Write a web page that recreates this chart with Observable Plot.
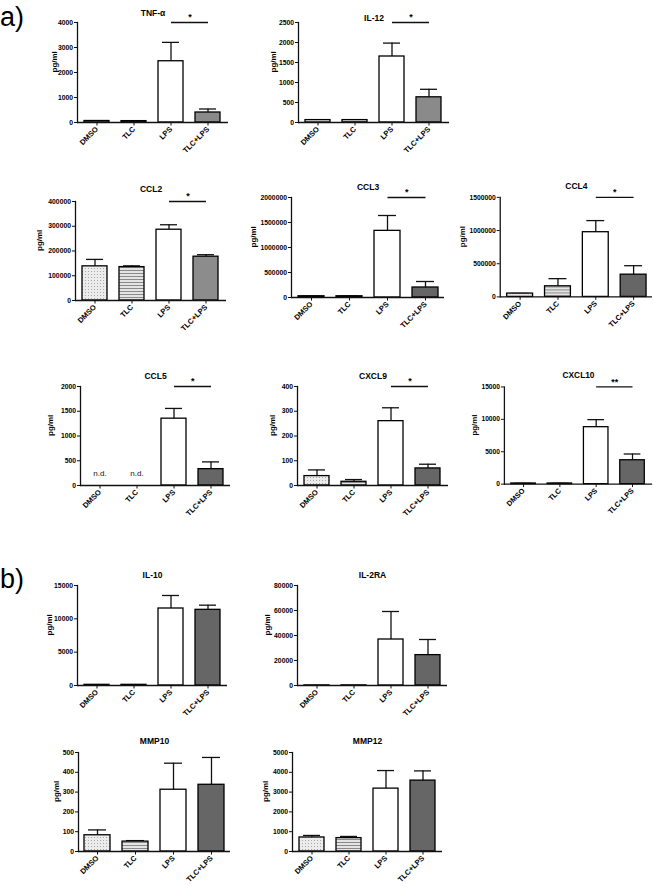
<!DOCTYPE html>
<html><head><meta charset="utf-8">
<script src="https://cdn.jsdelivr.net/npm/d3@7"></script>
<script src="https://cdn.jsdelivr.net/npm/@observablehq/plot@0.6"></script>
<style>
body{margin:0;background:#fff;}
#root{position:relative;width:660px;height:886px;overflow:hidden;font-family:"Liberation Sans",Arial,sans-serif;background:#fff;}
.panel{position:absolute;}
.tag{position:absolute;font-size:27px;line-height:1;color:#000;}
</style></head><body>
<div id="root">
<svg width="0" height="0" style="position:absolute;left:0;top:0"><defs>
<pattern id="dots" width="3" height="3" patternUnits="userSpaceOnUse"><rect width="3" height="3" fill="#ececec"/><rect x="1" y="1" width="1" height="1" fill="#a8a8a8"/></pattern>
<pattern id="stripes" width="4" height="3" patternUnits="userSpaceOnUse"><rect width="4" height="3" fill="#e4e4e4"/><rect y="0" width="4" height="1" fill="#8a8a8a"/></pattern>
</defs></svg>
<div class="tag" style="left:0px;top:4px">a)</div>
<div class="tag" style="left:0px;top:566px">b)</div>
</div>
<script>
// ---- data ----
const groups = ["DMSO", "TLC", "LPS", "TLC+LPS"];
const analytes = ["TNF-α", "IL-12", "CCL2", "CCL3", "CCL4", "CCL5", "CXCL9", "CXCL10", "IL-10", "IL-2RA", "MMP10", "MMP12"];

const tnfMean = [60, 55, 2450, 400];          const tnfErr = [10, 10, 755, 140];
const il12Mean = [60, 60, 1650, 630];         const il12Err = [5, 5, 335, 200];
const ccl2Mean = [138000, 135000, 286000, 177000]; const ccl2Err = [28000, 5000, 20000, 8000];
const ccl3Mean = [25000, 25000, 1333000, 200000];  const ccl3Err = [5000, 5000, 307000, 120000];
const ccl4Mean = [50000, 160000, 975000, 335000];  const ccl4Err = [3000, 115000, 175000, 135000];
const ccl5Mean = [null, null, 1350, 330];     const ccl5Err = [0, 0, 207, 147];
const cxcl9Mean = [38, 15, 260, 69];          const cxcl9Err = [25, 9, 54, 17];
const cxcl10Mean = [100, 100, 8790, 3690];    const cxcl10Err = [20, 20, 1160, 960];
const il10Mean = [100, 100, 11550, 11350];    const il10Err = [20, 20, 1950, 700];
const il2raMean = [100, 100, 36800, 24300];   const il2raErr = [0, 0, 22400, 12500];
const mmp10Mean = [82, 50, 312, 337];         const mmp10Err = [27, 5, 134, 138];
const mmp12Mean = [709, 676, 3176, 3581];     const mmp12Err = [102, 84, 912, 490];

const tnfTicks = [0, 1000, 2000, 3000, 4000];
const il12Ticks = [0, 500, 1000, 1500, 2000, 2500];
const ccl2Ticks = [0, 100000, 200000, 300000, 400000];
const ccl3Ticks = [0, 500000, 1000000, 1500000, 2000000];
const ccl4Ticks = [0, 500000, 1000000, 1500000];
const ccl5Ticks = [0, 500, 1000, 1500, 2000];
const cxcl9Ticks = [0, 100, 200, 300, 400];
const cxcl10Ticks = [0, 5000, 10000, 15000];
const il10Ticks = [0, 5000, 10000, 15000];
const il2raTicks = [0, 20000, 40000, 60000, 80000];
const mmp10Ticks = [0, 100, 200, 300, 400, 500];
const mmp12Ticks = [0, 1000, 2000, 3000, 4000, 5000];

const significance = ["*", "*", "*", "*", "*", "*", "*", "**", "", "", "", ""];
const nd = "n.d.";

// ---- layout (pixel geometry of each panel) ----
const layout = [
  {mean: tnfMean, err: tnfErr, ticks: tnfTicks, x0: 77, x1: 228, yT: 22, yB: 122, dt: 13, ly: -23, gray: "#8a8a8a"},
  {mean: il12Mean, err: il12Err, ticks: il12Ticks, x0: 298, x1: 449, yT: 22, yB: 122, dt: 8, ly: -25, gray: "#8a8a8a"},
  {mean: ccl2Mean, err: ccl2Err, ticks: ccl2Ticks, x0: 75, x1: 226, yT: 201, yB: 300, dt: 16, ly: -36, gray: "#8c8c8c"},
  {mean: ccl3Mean, err: ccl3Err, ticks: ccl3Ticks, x0: 291, x1: 444, yT: 197, yB: 297, dt: 14, ly: -38, gray: "#666"},
  {mean: ccl4Mean, err: ccl4Err, ticks: ccl4Ticks, x0: 500, x1: 653, yT: 197, yB: 297, dt: 14, ly: -38, gray: "#666"},
  {mean: ccl5Mean, err: ccl5Err, ticks: ccl5Ticks, x0: 80, x1: 230, yT: 386, yB: 485, dt: 14, ly: -30, gray: "#666"},
  {mean: cxcl9Mean, err: cxcl9Err, ticks: cxcl9Ticks, x0: 297, x1: 448, yT: 386, yB: 485, dt: 14, ly: -25, gray: "#666"},
  {mean: cxcl10Mean, err: cxcl10Err, ticks: cxcl10Ticks, x0: 505, x1: 656, yT: 387, yB: 486, dt: 15, ly: -30, gray: "#666"},
  {mean: il10Mean, err: il10Err, ticks: il10Ticks, x0: 77, x1: 227, yT: 585, yB: 685, dt: 14, ly: -28, gray: "#666"},
  {mean: il2raMean, err: il2raErr, ticks: il2raTicks, x0: 297, x1: 447, yT: 585, yB: 685, dt: 14, ly: -30, gray: "#666"},
  {mean: mmp10Mean, err: mmp10Err, ticks: mmp10Ticks, x0: 78, x1: 230, yT: 752, yB: 851, dt: 15, ly: -22, gray: "#666"},
  {mean: mmp12Mean, err: mmp12Err, ticks: mmp12Ticks, x0: 292, x1: 442, yT: 752, yB: 851, dt: 15, ly: -27, gray: "#666"}
];

const root = document.getElementById("root");
const L = 60, R = 8, T = 30, B = 44;
const ink = "#111";

layout.forEach((cfg, k) => {
  const fills = ["url(#dots)", "url(#stripes)", "#fff", cfg.gray];
  const rows = groups.map((g, i) => ({g, v: cfg.mean[i], e: cfg.err[i], f: fills[i]}));
  const present = rows.filter(d => d.v != null);
  const withErr = present.filter(d => d.e > 0);
  const missing = rows.filter(d => d.v == null);
  const w = cfg.x1 - cfg.x0, h = cfg.yB - cfg.yT;
  const top = cfg.ticks[cfg.ticks.length - 1];
  const step = w / 4;
  const marks = [
    Plot.ruleX(withErr, {x: "g", y1: "v", y2: d => d.v + d.e, stroke: ink, strokeWidth: 1.3}),
    Plot.tickY(withErr, {x: "g", y: d => d.v + d.e, stroke: ink, strokeWidth: 1.3, insetLeft: 4, insetRight: 4}),
    Plot.barY(present, {x: "g", y: "v", fill: "f", stroke: "#000", strokeWidth: 1.3}),
    Plot.axisY({ticks: cfg.ticks, tickSize: 3, tickPadding: 1.5, tickFormat: d => String(d), label: null, fontWeight: "bold", fontSize: 6.8, stroke: ink, fill: "#000"}),
    Plot.axisX({tickSize: 3.5, tickRotate: -45, tickPadding: 2, label: null, fontWeight: "bold", fontSize: 7.5, stroke: ink, fill: "#000"}),
    Plot.ruleY([0], {stroke: ink, strokeWidth: 1.3}),
    Plot.frame({anchor: "left", stroke: ink, strokeWidth: 1.3}),
    Plot.text([analytes[k]], {frameAnchor: "top", dy: -cfg.dt, fontSize: 8.5, fontWeight: "bold", fill: "#000"}),
    Plot.text(["pg/ml"], {frameAnchor: "left", dx: cfg.ly, rotate: -90, fontSize: 8, fontWeight: "bold", fill: "#000"})
  ];
  if (missing.length) {
    marks.push(Plot.text(missing, {x: "g", y: 0, text: () => nd, dy: -12, fontSize: 8, fill: ink}));
  }
  if (significance[k]) {
    marks.push(Plot.link([{a: "LPS", b: "TLC+LPS"}], {x1: "a", x2: "b", y1: () => top, y2: () => top, stroke: ink, strokeWidth: 1.3}));
    marks.push(Plot.text([significance[k]], {x: () => "LPS", y: () => top, dx: step / 2, dy: -5, fontSize: 9, fontWeight: "bold", fill: "#000"}));
  }
  const chart = Plot.plot({
    width: w + L + R,
    height: h + T + B,
    marginLeft: L, marginRight: R, marginTop: T, marginBottom: B,
    style: {fontFamily: "Liberation Sans, Arial, sans-serif", fontSize: "7px", color: ink, background: "transparent", overflow: "visible"},
    x: {domain: groups, paddingInner: 0.32, paddingOuter: 0.16},
    y: {domain: [0, top]},
    color: {type: "identity"},
    marks
  });
  const div = document.createElement("div");
  div.className = "panel";
  div.style.left = (cfg.x0 - L) + "px";
  div.style.top = (cfg.yT - T) + "px";
  div.appendChild(chart);
  root.appendChild(div);
});
</script>
</body></html>
